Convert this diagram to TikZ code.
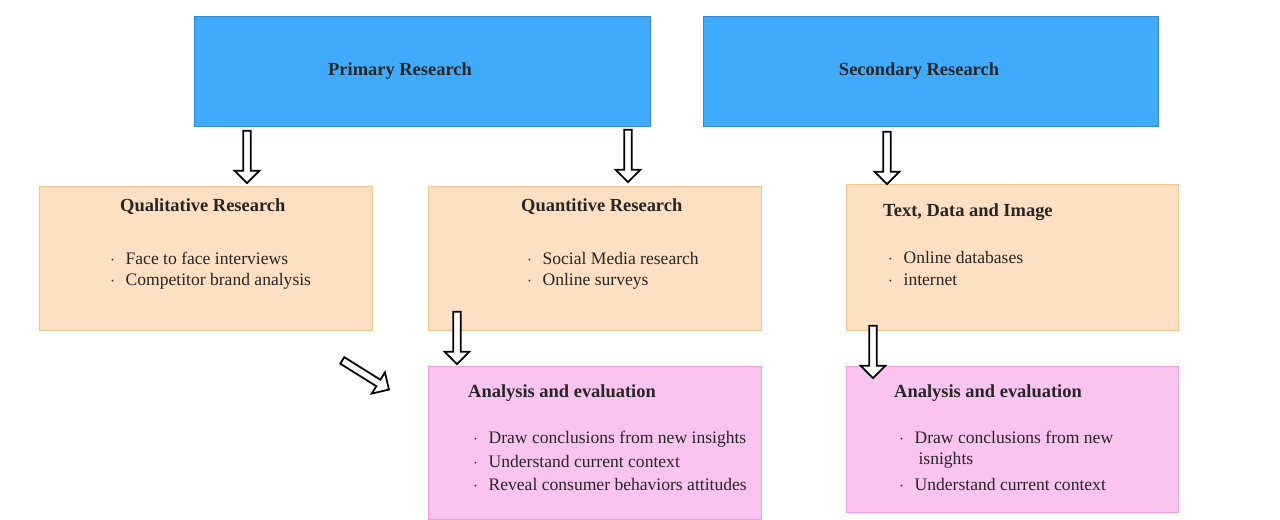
\documentclass[tikz,border=0pt]{standalone}
\usepackage{fontspec}
\setmainfont{Liberation Serif}
\usetikzlibrary{shapes.arrows}
\definecolor{blueBox}{HTML}{40ABFD}
\definecolor{peachBox}{HTML}{FDDFC2}
\definecolor{peachLine}{HTML}{F5C38E}
\definecolor{pinkBox}{HTML}{FBC3EF}
\definecolor{pinkLine}{HTML}{F49AE0}
\tikzstyle{topbox} = [draw=blueBox!80!black, fill=blueBox, line width=0.4pt]
\tikzstyle{midbox} = [draw=peachLine, fill=peachBox]
\tikzstyle{lowbox} = [draw=pinkLine, fill=pinkBox]
\tikzstyle{title} = [anchor=west, font=\fontsize{10.5}{12}\selectfont\bfseries, text=black!85]
\tikzstyle{item} = [anchor=west, font=\fontsize{10}{12}\selectfont, text=black!85]
\tikzstyle{hollow} = [single arrow, draw=black, fill=white, line width=1pt, minimum height=1.05cm, minimum width=0.5cm, single arrow head extend=0.08cm, inner sep=0.5pt]

\begin{document}
\begin{tikzpicture}[x=0.02cm, y=-0.02cm]
\useasboundingbox (0,0) rectangle (1280,520);

\draw [topbox] (194,16) rectangle (650,126);
\node (prim) [title, anchor=center] at (400,71) {Primary Research};
\draw [topbox] (703,16) rectangle (1158,126);
\node (sec) [title, anchor=center] at (919,71) {Secondary Research};

\draw [midbox] (39,186) rectangle (372,330);
\node (qual) [title] at (114,207) {Qualitative Research};
\node (q1) [item] at (104,258) {$\cdot$\hspace{6pt}Face to face interviews};
\node (q2) [item] at (104,281) {$\cdot$\hspace{6pt}Competitor brand analysis};

\draw [midbox] (428,186) rectangle (761,330);
\node (quant) [title] at (515,207) {Quantitive Research};
\node (n1) [item] at (521,258) {$\cdot$\hspace{6pt}Social Media research};
\node (n2) [item] at (521,281) {$\cdot$\hspace{6pt}Online surveys};

\draw [midbox] (846,184) rectangle (1178,330);
\node (tdi) [title] at (877,212) {Text, Data and Image};
\node (t1) [item] at (882,257) {$\cdot$\hspace{6pt}Online databases};
\node (t2) [item] at (882,280) {$\cdot$\hspace{6pt}internet};

\draw [lowbox] (428,366) rectangle (761,519);
\node (ana1) [title] at (462,393) {Analysis and evaluation};
\node (a1) [item] at (467,439) {$\cdot$\hspace{6pt}Draw conclusions from new insights};
\node (a2) [item] at (467,461) {$\cdot$\hspace{6pt}Understand current context};
\node (a3) [item] at (467,484) {$\cdot$\hspace{6pt}Reveal consumer behaviors attitudes};

\draw [lowbox] (846,366) rectangle (1178,512);
\node (ana2) [title] at (888,393) {Analysis and evaluation};
\node (b1) [item, align=left] at (893,450) {$\cdot$\hspace{6pt}Draw conclusions from new\\\hspace{11pt}isnights};
\node (b2) [item] at (893,484) {$\cdot$\hspace{6pt}Understand current context};

% hollow arrows
\node (ar1) [hollow, rotate=-90] at (247,155) {};
\node (ar2) [hollow, rotate=-90] at (628,154) {};
\node (ar3) [hollow, rotate=-90] at (887,156) {};
\node (ar4) [hollow, rotate=-90] at (457,336) {};
\node (ar5) [hollow, rotate=-90] at (873,350) {};
\node (ar6) [hollow, rotate=-32, minimum height=1.1cm] at (364,374) {};

\end{tikzpicture}
\end{document}
